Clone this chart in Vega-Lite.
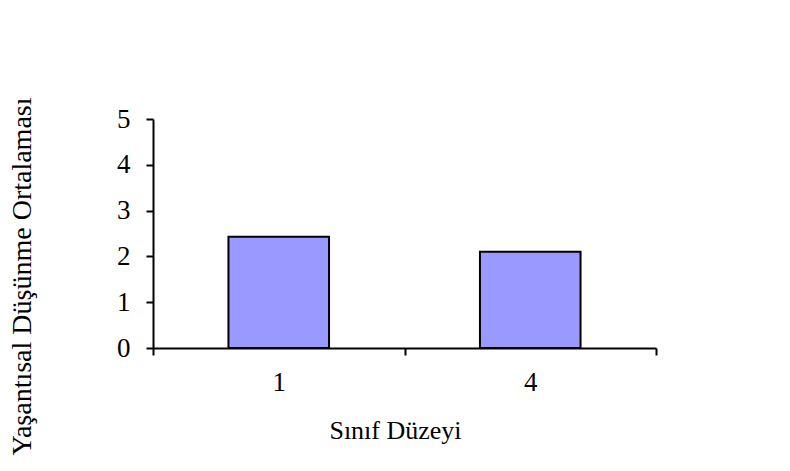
{
  "$schema": "https://vega.github.io/schema/vega-lite/v6.json",
  "autosize": "none",
  "padding": {"left": 153, "top": 119, "right": 134, "bottom": 123},
  "width": 503,
  "height": 229,
  "background": "white",
  "config": {
    "view": {"stroke": null},
    "font": "Liberation Serif"
  },
  "data": {
    "values": [
      {"sinif": "1", "ortalama": 2.43},
      {"sinif": "4", "ortalama": 2.1}
    ]
  },
  "mark": {"type": "bar", "color": "#9999FF", "stroke": "black", "strokeWidth": 2, "width": {"band": 0.4}},
  "encoding": {
    "x": {
      "field": "sinif",
      "type": "nominal",
      "sort": null,
      "scale": {"paddingInner": 0, "paddingOuter": 0},
      "axis": {
        "title": "Sınıf Düzeyi",
        "labelAngle": 0,
        "tickBand": "extent",
        "domainColor": "black",
        "domainWidth": 2,
        "tickColor": "black",
        "tickWidth": 2,
        "tickSize": 7,
        "labelFont": "Liberation Serif",
        "labelFontSize": 27,
        "labelColor": "black",
        "labelPadding": 14,
        "titleFont": "Liberation Serif",
        "titleFontSize": 26,
        "titleFontWeight": "normal",
        "titleColor": "black",
        "titleX": 242,
        "titlePadding": 22
      }
    },
    "y": {
      "field": "ortalama",
      "type": "quantitative",
      "scale": {"domain": [0, 5], "nice": false},
      "axis": {
        "title": "Yaşantısal Düşünme Ortalaması",
        "values": [0, 1, 2, 3, 4, 5],
        "grid": false,
        "domainColor": "black",
        "domainWidth": 2,
        "tickColor": "black",
        "tickWidth": 2,
        "tickSize": 7,
        "labelFont": "Liberation Serif",
        "labelFontSize": 27,
        "labelColor": "black",
        "labelPadding": 16,
        "labelFlush": false,
        "titleFont": "Liberation Serif",
        "titleFontSize": 28,
        "titleFontWeight": "normal",
        "titleColor": "black",
        "titleY": 157,
        "titlePadding": 80
      }
    }
  }
}
